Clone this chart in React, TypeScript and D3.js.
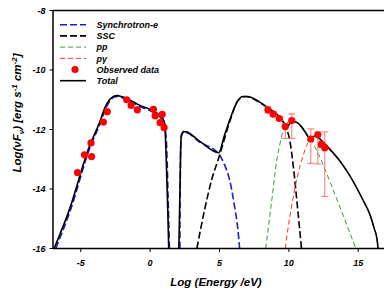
import React from 'react';
import * as d3 from 'd3';

// log10(E/eV), log10(nuFnu)
const totalCurve: [number, number][] = [
  [-6.92, -16], [-5.83, -14.71], [-4.39, -12.58], [-3.66, -11.78], [-3.23, -11.24], [-2.94, -11.01],
  [-2.65, -10.89], [-2.36, -10.86], [-2.07, -10.89], [-0.77, -11.18], [0.79, -11.57], [1.0, -11.71],
  [1.07, -11.95], [1.14, -12.69], [1.25, -14.37], [1.34, -16], [1.36, -16.5], [2.05, -16.5],
  [2.07, -16], [2.15, -14.03], [2.21, -12.52], [2.26, -12.18], [2.41, -12.07], [2.62, -12.08],
  [3.56, -12.39], [4.94, -12.78], [5.37, -12.18], [5.87, -11.51], [6.31, -11.04], [6.67, -10.89],
  [7.03, -10.89], [7.9, -11.08], [8.62, -11.31], [9.34, -11.58], [9.7, -11.82], [9.88, -11.93],
  [9.99, -11.85], [10.21, -11.73], [10.5, -11.75], [10.93, -11.92], [11.22, -12.12], [11.4, -12.25],
  [11.58, -12.27], [11.87, -12.22], [12.23, -12.32], [12.95, -12.66], [13.68, -13.06], [14.4, -13.56],
  [15.34, -14.37], [15.85, -14.87], [16.14, -15.31], [16.36, -15.71], [16.43, -16],
];

const synchroLow: [number, number][] = [
  [-6.8, -16], [-5.75, -14.72], [-4.33, -12.6], [-3.6, -11.8], [-3.18, -11.27], [-2.9, -11.04],
  [-2.62, -10.92], [-2.36, -10.89], [-2.07, -10.92], [-0.77, -11.22], [0.79, -11.62], [1.02, -11.76],
  [1.1, -12.0], [1.2, -12.69], [1.3, -14.37], [1.39, -16],
];

const synchroHigh: [number, number][] = [
  [2.14, -16], [2.17, -14.0], [2.2, -12.6], [2.26, -12.22], [2.4, -12.1], [2.62, -12.11],
  [3.56, -12.42], [4.94, -12.82], [5.37, -13.19], [5.73, -13.7], [6.09, -14.6], [6.33, -15.38], [6.45, -16],
];

const sscCurve: [number, number][] = [
  [3.37, -16], [3.92, -14.71], [4.43, -13.7], [5.01, -12.86], [5.73, -11.75], [6.31, -11.04],
  [6.85, -10.89], [7.9, -11.09], [8.62, -11.33], [9.34, -11.6], [9.7, -11.88], [10.06, -12.35],
  [10.35, -13.36], [10.64, -14.71], [10.91, -16],
];

const ppCurve: [number, number][] = [
  [8.33, -16], [8.77, -14.37], [9.13, -13.03], [9.42, -12.35], [9.63, -11.95], [9.92, -11.76],
  [10.21, -11.71], [10.57, -11.76], [11.01, -11.95], [11.51, -12.29], [12.23, -12.92], [12.74, -13.5],
  [13.68, -14.61], [14.26, -15.31], [14.83, -16],
];

const pgCurve: [number, number][] = [
  [9.74, -16], [9.92, -15.38], [10.21, -14.54], [10.64, -13.53], [11.0, -12.92], [11.37, -12.45],
  [11.66, -12.29], [11.95, -12.24], [12.38, -12.35], [12.95, -12.69], [13.68, -13.08], [14.4, -13.56],
  [15.34, -14.37], [15.85, -14.87], [16.14, -15.31], [16.36, -15.71], [16.43, -16],
];

// x, y, lower, upper (null = no error bar)
const observed: [number, number, number | null, number | null][] = [
  [-5.23, -13.45, null, null], [-4.73, -12.85, null, null], [-4.22, -12.91, null, null],
  [-4.26, -12.45, null, null], [-3.37, -11.75, null, null], [-3.09, -11.4, null, null],
  [-1.69, -11.0, null, null], [-1.37, -11.19, null, null], [-0.92, -11.34, null, null],
  [0.24, -11.32, null, null], [0.36, -11.54, null, null], [0.87, -11.49, null, null],
  [0.72, -11.77, null, null], [1.01, -11.94, null, null],
  [8.49, -11.34, -11.44, -11.24], [8.87, -11.48, -11.56, -11.4], [9.31, -11.63, -11.7, -11.56],
  [9.74, -11.9, -12.3, -11.8], [10.21, -11.7, -12.3, -11.48],
  [11.58, -12.32, -13.14, -11.98], [12.09, -12.18, -13.16, -12.09],
  [12.34, -12.5, -12.6, -12.4], [12.59, -12.61, -14.25, -12.08],
];

const xTicks = [-5, 0, 5, 10, 15];
const yTicks = [-8, -10, -12, -14, -16];

const legendItems = [
  { label: 'Synchrotron-e', kind: 'line', color: '#1c1cc8', dash: '7,3', width: 1.6 },
  { label: 'SSC', kind: 'line', color: '#000000', dash: '7,3', width: 1.6 },
  { label: 'pp', kind: 'line', color: '#3a9a3a', dash: '5,3', width: 1 },
  { label: 'p\u03b3', kind: 'line', color: '#ff3030', dash: '5,3', width: 1 },
  { label: 'Observed data', kind: 'dot', color: '#ff0000', dash: '', width: 0 },
  { label: 'Total', kind: 'line', color: '#000000', dash: '', width: 1.6 },
];

const W = 384;
const H = 289;
const margin = { left: 53, top: 10.5, right: 386, bottom: 248.5 };

export default function App() {
  const x = d3.scaleLinear().domain([-7, 17]).range([margin.left, margin.right]);
  const y = d3.scaleLinear().domain([-16, -8]).range([margin.bottom, margin.top]);
  const line = d3.line<[number, number]>()
    .x(d => x(d[0]))
    .y(d => y(d[1]))
    .curve(d3.curveMonotoneX);
  const font = "'Liberation Sans', Arial, sans-serif";

  const series = [
    { data: synchroLow, ...legendItems[0] },
    { data: synchroHigh, ...legendItems[0] },
    { data: sscCurve, ...legendItems[1] },
    { data: ppCurve, ...legendItems[2] },
    { data: pgCurve, ...legendItems[3] },
  ];

  return (
    <svg width={W} height={H} style={{ position: 'absolute', left: 0, top: 0, background: '#fff' }}
      fontFamily={font} fontStyle="italic" fontWeight="bold">
      <defs>
        <clipPath id="plot">
          <rect x={margin.left} y={margin.top} width={margin.right - margin.left} height={margin.bottom - margin.top} />
        </clipPath>
      </defs>

      <g clipPath="url(#plot)">
        {series.map((s, i) => (
          <path key={i} d={line(s.data) || ''} fill="none" stroke={s.color}
            strokeWidth={s.width} strokeDasharray={s.dash} />
        ))}
        <path d={line(totalCurve) || ''} fill="none" stroke="#000" strokeWidth={1.6} />
        {observed.filter(d => d[2] !== null).map((d, i) => (
          <g key={'e' + i} stroke="#ff7070" strokeWidth={1}>
            <line x1={x(d[0])} x2={x(d[0])} y1={y(d[2] as number)} y2={y(d[3] as number)} />
            <line x1={x(d[0]) - 3.5} x2={x(d[0]) + 3.5} y1={y(d[2] as number)} y2={y(d[2] as number)} />
            <line x1={x(d[0]) - 3.5} x2={x(d[0]) + 3.5} y1={y(d[3] as number)} y2={y(d[3] as number)} />
          </g>
        ))}
        {observed.map((d, i) => (
          <circle key={'p' + i} cx={x(d[0])} cy={y(d[1])} r={3.6} fill="#ff0000" />
        ))}
      </g>

      {/* frame */}
      <g stroke="#000" strokeWidth={1.5} fill="none">
        <line x1={margin.left} x2={W + 5} y1={margin.top} y2={margin.top} />
        <line x1={margin.left} x2={W + 5} y1={margin.bottom} y2={margin.bottom} />
        <line x1={margin.left} x2={margin.left} y1={margin.top} y2={margin.bottom} />
      </g>

      {xTicks.map(t => (
        <g key={'x' + t}>
          <line x1={x(t)} x2={x(t)} y1={margin.bottom} y2={margin.bottom + 3.5} stroke="#000" strokeWidth={1} />
          <text x={x(t)} y={266} textAnchor="middle" fontSize={9}>{t}</text>
        </g>
      ))}
      {yTicks.map(t => (
        <g key={'y' + t}>
          <line x1={margin.left - 3.5} x2={margin.left} y1={y(t)} y2={y(t)} stroke="#000" strokeWidth={1} />
          <text x={45.5} y={y(t) + 3.2} textAnchor="end" fontSize={9}>{t}</text>
        </g>
      ))}

      <text x={216} y={286} textAnchor="middle" fontSize={11.5}>Log (Energy /eV)</text>
      <text transform="translate(21,113) rotate(-90)" textAnchor="middle" fontSize={11.5}>
        Log(<tspan>{'\u03bd'}</tspan>F<tspan fontSize={8} dy={2.5}>{'\u03bd'}</tspan>
        <tspan dy={-2.5}>) [erg s</tspan><tspan fontSize={8} dy={-4.5}>-1</tspan>
        <tspan dy={4.5}> cm</tspan><tspan fontSize={8} dy={-4.5}>-2</tspan><tspan dy={4.5}>]</tspan>
      </text>

      {legendItems.map((it, i) => {
        const ly = 24.7 + i * 11.2;
        return (
          <g key={'l' + i}>
            {it.kind === 'line' ? (
              <line x1={60} x2={86} y1={ly} y2={ly} stroke={it.color} strokeWidth={it.width}
                strokeDasharray={it.dash} />
            ) : (
              <circle cx={75} cy={ly} r={3.6} fill={it.color} />
            )}
            <text x={96.5} y={ly + 3.3} fontSize={9}>{it.label}</text>
          </g>
        );
      })}
    </svg>
  );
}
